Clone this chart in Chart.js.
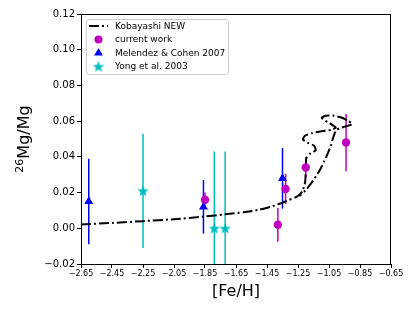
<!DOCTYPE html>
<html>
<head>
<meta charset="utf-8">
<script src="https://cdn.jsdelivr.net/npm/chart.js@4.4.1/dist/chart.umd.min.js"></script>
<style>
  html, body { margin: 0; padding: 0; background: #fff; }
  canvas { display: block; }
</style>
</head>
<body>
<canvas id="chart" width="415" height="311"></canvas>
<script>
// Kobayashi NEW model track ([Fe/H], 26Mg/Mg)
const kobFeH = [-2.65, -2.45, -2.25, -2.05, -1.85, -1.72, -1.60, -1.50, -1.42, -1.36, -1.31, -1.27,
  -1.245, -1.220, -1.204, -1.200, -1.196, -1.172, -1.136, -1.146, -1.190, -1.218, -1.205, -1.160,
  -1.097, -1.033, -1.007, -1.059, -1.097, -1.072, -1.026, -0.975, -0.929, -0.900, -0.949, -1.001,
  -1.020, -1.039, -1.071, -1.110, -1.155, -1.200, -1.239];
const kobMg = [0.0021, 0.0030, 0.0040, 0.0051, 0.0066, 0.0078, 0.0090, 0.0104, 0.0122, 0.0140, 0.0158, 0.0172,
  0.0183, 0.0210, 0.0258, 0.0325, 0.0393, 0.0418, 0.0437, 0.0462, 0.0480, 0.0498, 0.0518, 0.0533,
  0.0544, 0.0552, 0.0564, 0.0595, 0.0618, 0.0630, 0.0631, 0.0622, 0.0603, 0.0583, 0.0569, 0.0552,
  0.0516, 0.0460, 0.0393, 0.0325, 0.0264, 0.0213, 0.0182];

// current work
const curFeH = [-1.85, -1.38, -1.33, -1.20, -0.94];
const curMg = [0.016, 0.002, 0.022, 0.034, 0.048];
const curErr = [0.004, 0.0095, 0.0085, 0.006, 0.016];

// Melendez & Cohen 2007
const melFeH = [-2.60, -1.86, -1.35];
const melMg = [0.015, 0.012, 0.028];
const melErr = [0.024, 0.015, 0.017];

// Yong et al. 2003
const yongFeH = [-2.25, -1.79, -1.72];
const yongMg = [0.021, 0.000, 0.000];
const yongErr = [0.032, 0.043, 0.043];

const xTicks = [-2.65, -2.45, -2.25, -2.05, -1.85, -1.65, -1.45, -1.25, -1.05, -0.85, -0.65];
const yTicks = [-0.02, 0.00, 0.02, 0.04, 0.06, 0.08, 0.10, 0.12];

const MAGENTA = "#bf00bf";
const BLUE = "#0000ff";
const CYAN = "#00bfbf";
const FONT = "'DejaVu Sans', sans-serif";

const toPoints = (xs, ys) => xs.map((x, i) => ({ x: x, y: ys[i] }));
const fmt = (v) => v.toFixed(2).replace("-", "\u2212");

// filled five point star, like matplotlib's '*'
function makeStar(size, color) {
  const c = document.createElement("canvas");
  c.width = size;
  c.height = size;
  const g = c.getContext("2d");
  const cx = size / 2, cy = size / 2 + 0.5;
  const outer = size / 2, inner = outer * 0.42;
  g.beginPath();
  for (let i = 0; i < 10; i++) {
    const r = i % 2 === 0 ? outer : inner;
    const a = -Math.PI / 2 + (i * Math.PI) / 5;
    g.lineTo(cx + r * Math.cos(a), cy + r * Math.sin(a));
  }
  g.closePath();
  g.fillStyle = color;
  g.fill();
  return c;
}
const starImg = makeStar(12, CYAN);

const errorBars = {
  id: "errorBars",
  beforeDatasetsDraw(chart) {
    const { ctx, chartArea, scales } = chart;
    ctx.save();
    ctx.beginPath();
    ctx.rect(chartArea.left, chartArea.top, chartArea.right - chartArea.left, chartArea.bottom - chartArea.top);
    ctx.clip();
    chart.data.datasets.forEach((ds) => {
      if (!ds.yErr) return;
      ctx.strokeStyle = ds.borderColor;
      ctx.lineWidth = 1.5;
      ds.data.forEach((p, i) => {
        const px = scales.x.getPixelForValue(p.x);
        ctx.beginPath();
        ctx.moveTo(px, scales.y.getPixelForValue(p.y - ds.yErr[i]));
        ctx.lineTo(px, scales.y.getPixelForValue(p.y + ds.yErr[i]));
        ctx.stroke();
      });
    });
    ctx.restore();
  },
};

const frameAndLegend = {
  id: "frameAndLegend",
  afterDraw(chart) {
    const { ctx, chartArea } = chart;
    ctx.save();
    // box round the axes
    ctx.strokeStyle = "#000";
    ctx.lineWidth = 1;
    ctx.strokeRect(chartArea.left + 0.5, chartArea.top + 0.5,
      chartArea.right - chartArea.left - 1, chartArea.bottom - chartArea.top);

    // y axis title with superscript 26
    ctx.fillStyle = "#000";
    ctx.translate(23, 139);
    ctx.rotate(-Math.PI / 2);
    ctx.textBaseline = "alphabetic";
    ctx.font = "11px " + FONT;
    const supW = ctx.measureText("26").width;
    ctx.font = "16px " + FONT;
    const mainW = ctx.measureText("Mg/Mg").width;
    const start = -(supW + mainW) / 2;
    ctx.font = "11px " + FONT;
    ctx.fillText("26", start, 0);
    ctx.font = "16px " + FONT;
    ctx.fillText("Mg/Mg", start + supW, 6);
    ctx.restore();

    // legend
    ctx.save();
    const bx = 86.5, by = 19.5, bw = 142, bh = 55;
    ctx.beginPath();
    ctx.roundRect(bx, by, bw, bh, 3);
    ctx.fillStyle = "rgba(255,255,255,0.8)";
    ctx.fill();
    ctx.strokeStyle = "#cccccc";
    ctx.lineWidth = 1;
    ctx.stroke();

    const rows = [26, 39.5, 53, 66.5];
    const labels = chart.data.datasets.map((d) => d.label);
    ctx.font = "9px " + FONT;
    ctx.textBaseline = "middle";
    ctx.fillStyle = "#000";
    labels.forEach((t, i) => ctx.fillText(t, 115, rows[i] + 0.5));

    ctx.strokeStyle = "#000";
    ctx.lineWidth = 2;
    ctx.setLineDash([10, 3, 2, 3]);
    ctx.beginPath();
    ctx.moveTo(89, rows[0]);
    ctx.lineTo(108, rows[0]);
    ctx.stroke();
    ctx.setLineDash([]);

    ctx.fillStyle = MAGENTA;
    ctx.beginPath();
    ctx.arc(98.5, rows[1], 4, 0, Math.PI * 2);
    ctx.fill();

    ctx.fillStyle = BLUE;
    ctx.beginPath();
    ctx.moveTo(98.5, rows[2] - 5);
    ctx.lineTo(98.5 + 4.4, rows[2] + 2.6);
    ctx.lineTo(98.5 - 4.4, rows[2] + 2.6);
    ctx.closePath();
    ctx.fill();

    ctx.drawImage(starImg, 98.5 - 6, rows[3] - 6);
    ctx.restore();
  },
};

new Chart(document.getElementById("chart"), {
  type: "scatter",
  data: {
    datasets: [
      {
        label: "Kobayashi NEW",
        data: toPoints(kobFeH, kobMg),
        showLine: true,
        borderColor: "#000",
        borderWidth: 2,
        borderDash: [10, 3, 2, 3],
        tension: 0.2,
        pointRadius: 0,
        fill: false,
        order: 4,
      },
      {
        label: "current work",
        data: toPoints(curFeH, curMg),
        yErr: curErr,
        borderColor: MAGENTA,
        backgroundColor: MAGENTA,
        pointRadius: 4.2,
        pointBorderWidth: 0,
        order: 1,
      },
      {
        label: "Melendez & Cohen 2007",
        data: toPoints(melFeH, melMg),
        yErr: melErr,
        borderColor: BLUE,
        backgroundColor: BLUE,
        pointStyle: "triangle",
        pointRadius: 5.2,
        pointBorderWidth: 0,
        order: 2,
      },
      {
        label: "Yong et al. 2003",
        data: toPoints(yongFeH, yongMg),
        yErr: yongErr,
        borderColor: CYAN,
        backgroundColor: CYAN,
        pointStyle: starImg,
        pointRadius: 6,
        order: 3,
      },
    ],
  },
  options: {
    responsive: false,
    animation: false,
    devicePixelRatio: 1,
    layout: { padding: { top: 14, right: 24, left: 0, bottom: 0 } },
    plugins: {
      legend: { display: false },
      tooltip: { enabled: false },
    },
    scales: {
      x: {
        type: "linear",
        min: -2.65,
        max: -0.65,
        afterBuildTicks: (s) => { s.ticks = xTicks.map((v) => ({ value: v })); },
        afterFit: (s) => { s.height = 47; },
        grid: { drawOnChartArea: false, drawTicks: true, tickLength: 4, color: "#000" },
        border: { color: "#000", width: 1 },
        ticks: {
          color: "#000",
          font: { family: FONT, size: 8 },
          padding: 1,
          maxRotation: 0,
          autoSkip: false,
          callback: (v) => fmt(v),
        },
        title: {
          display: true,
          text: "[Fe/H]",
          color: "#000",
          font: { family: FONT, size: 16 },
          padding: { top: 0, bottom: 10 },
        },
      },
      y: {
        type: "linear",
        min: -0.02,
        max: 0.12,
        afterBuildTicks: (s) => { s.ticks = yTicks.map((v) => ({ value: v })); },
        afterFit: (s) => { s.width = 81; },
        grid: { drawOnChartArea: false, drawTicks: true, tickLength: 4, color: "#000" },
        border: { color: "#000", width: 1 },
        ticks: {
          color: "#000",
          font: { family: FONT, size: 10 },
          padding: 2,
          callback: (v) => fmt(v),
        },
      },
    },
  },
  plugins: [errorBars, frameAndLegend],
});
</script>
</body>
</html>
